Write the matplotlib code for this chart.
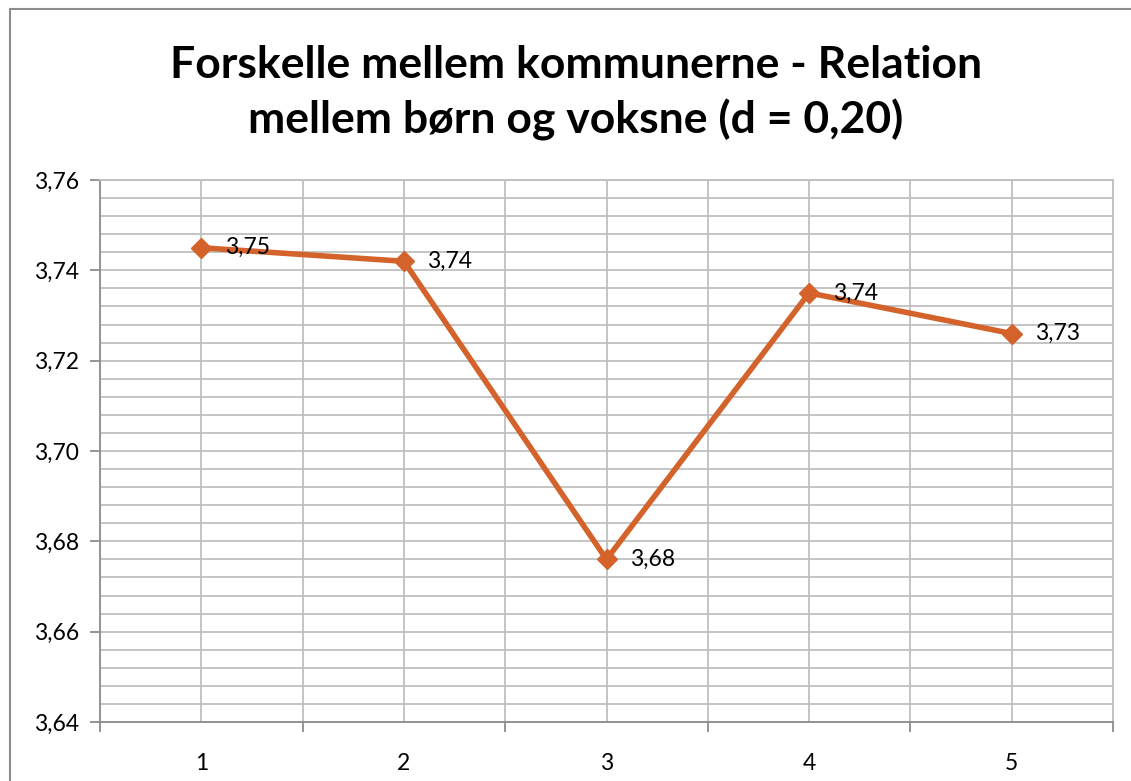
import matplotlib
matplotlib.use("Agg")
import matplotlib.pyplot as plt
from matplotlib.patches import Rectangle
from matplotlib.ticker import FixedLocator, MultipleLocator, FuncFormatter

# data
categories = [1, 2, 3, 4, 5]
values = [3.745, 3.742, 3.676, 3.735, 3.726]
value_labels = ["3,75", "3,74", "3,68", "3,74", "3,73"]
title = "Forskelle mellem kommunerne - Relation\nmellem børn og voksne (d = 0,20)"

LINE_C = "#D4622B"
GRID_C = "#BFBFBF"
FONT = ["Lato", "DejaVu Sans"]

plt.rcParams["font.family"] = FONT

W, H = 1131, 781
fig = plt.figure(figsize=(W / 100, H / 100), dpi=100)

# outer chart frame (cropped on right and bottom in the reference)
fig.patches.append(Rectangle((10 / W, -0.1), 1.2, 1 - 9 / H + 0.1,
                             transform=fig.transFigure, fill=False,
                             edgecolor="#8C8C8C", linewidth=1.5))

ax = fig.add_axes([100 / W, 1 - 722 / H, 1013 / W, 542 / H])
ax.plot(categories, values, color=LINE_C, linewidth=4, marker="D",
        markersize=10, zorder=3)
for x, y, lab in zip(categories, values, value_labels):
    ax.annotate(lab, (x, y), textcoords="offset points", xytext=(17, 0),
                va="center", ha="left", fontsize=16.5, color="black", zorder=4)

ax.set_xlim(0.5, 5.5)
ax.set_ylim(3.64, 3.76)

ax.xaxis.set_major_locator(FixedLocator(categories))
ax.xaxis.set_minor_locator(FixedLocator([c - 0.5 for c in categories] + [5.5]))
ax.yaxis.set_major_locator(MultipleLocator(0.02))
ax.yaxis.set_minor_locator(MultipleLocator(0.004))
ax.yaxis.set_major_formatter(FuncFormatter(lambda v, _: f"{v:.2f}".replace(".", ",")))

ax.grid(True, which="both", color=GRID_C, linewidth=1.3)
ax.set_axisbelow(True)
ax.tick_params(axis="x", which="major", length=0, pad=22, labelsize=16.5)
ax.tick_params(axis="x", which="minor", length=7, color="#8C8C8C", width=1.3,
               direction="out")
ax.tick_params(axis="y", which="major", length=7, color="#8C8C8C", width=1.3,
               direction="out", labelsize=16.5, pad=8)
ax.tick_params(axis="y", which="minor", length=0)

for side in ["top", "right"]:
    ax.spines[side].set_color(GRID_C)
    ax.spines[side].set_linewidth(1.3)
for side in ["left", "bottom"]:
    ax.spines[side].set_color("#8C8C8C")
    ax.spines[side].set_linewidth(1.3)

fig.text(576 / W, 1 - 93 / H, title, ha="center", va="center",
         fontsize=32, fontweight="bold", linespacing=1.4)

fig.savefig("out.png", dpi=100)
